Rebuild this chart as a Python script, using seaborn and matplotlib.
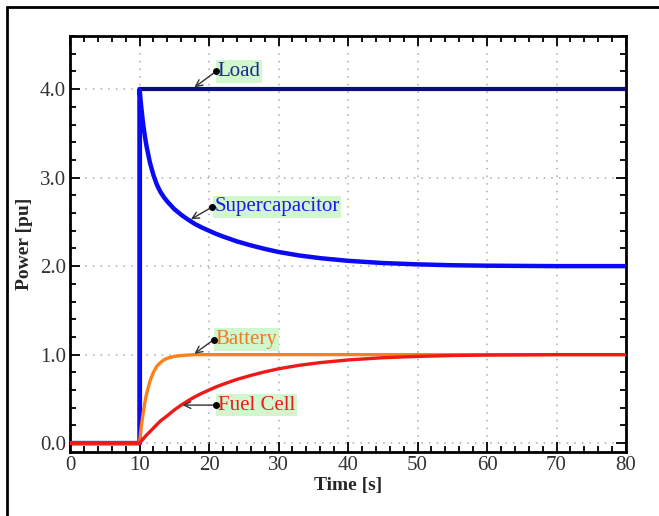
import numpy as np
import pandas as pd
import matplotlib
matplotlib.use("Agg")
import matplotlib.pyplot as plt
from matplotlib.lines import Line2D
from matplotlib.ticker import MultipleLocator, FormatStrFormatter
import seaborn as sns

# values
time_s = [0, 10, 10, 10.25, 10.5, 10.75, 11, 11.5, 12, 12.5, 13, 13.5, 14, 15, 16, 17, 18, 19,
          20, 21, 22, 24, 26, 28, 30, 33, 36, 40, 45, 50, 55, 60, 70, 80]
load = [0, 0] + [4.0] * 32
supercap = [0, 0, 4.0, 3.80, 3.62, 3.48, 3.36, 3.17, 3.03, 2.92, 2.84, 2.78, 2.73, 2.645, 2.58, 2.525,
            2.475, 2.435, 2.40, 2.365, 2.335, 2.28, 2.235, 2.195, 2.16, 2.12, 2.09, 2.06, 2.035,
            2.02, 2.01, 2.005, 2.0, 2.0]
battery = [0, 0, 0, 0.18, 0.33, 0.45, 0.55, 0.70, 0.80, 0.87, 0.91, 0.94, 0.96, 0.98, 0.99, 0.995,
           1.0, 1.0, 1.0, 1.0, 1.0, 1.0, 1.0, 1.0, 1.0, 1.0, 1.0, 1.0, 1.0, 1.0, 1.0, 1.0, 1.0, 1.0]
fuel_cell = [0, 0, 0, 0.023, 0.045, 0.068, 0.09, 0.13, 0.17, 0.21, 0.25, 0.28, 0.31, 0.375, 0.43, 0.48,
             0.525, 0.565, 0.60, 0.635, 0.665, 0.72, 0.765, 0.805, 0.84, 0.88, 0.91, 0.94, 0.965,
             0.98, 0.99, 0.995, 1.0, 1.0]

# label text, dot position, arrow tip
labels = ["Load", "Supercapacitor", "Battery", "Fuel Cell"]
dot_x = [21.0, 20.5, 20.7, 21.0]
dot_y = [4.20, 2.67, 1.17, 0.43]
tip_x = [17.9, 17.4, 17.9, 16.2]
tip_y = [4.02, 2.53, 1.01, 0.43]

colors = {"Load": "#0c0c84", "Supercapacitor": "#0a0af5",
          "Battery": "#ff8019", "Fuel Cell": "#f01818"}
text_colors = {"Load": "#1c2a8c", "Supercapacitor": "#1a1ae6",
               "Battery": "#f07a20", "Fuel Cell": "#e41c1c"}
widths = {"Load": 3.0, "Supercapacitor": 3.2, "Battery": 2.4, "Fuel Cell": 2.4}

sns.set_theme(style="ticks")
plt.rcParams["font.family"] = ["Liberation Serif", "DejaVu Serif"]

fig = plt.figure(figsize=(6.59, 5.16), dpi=100)
ax = fig.add_axes([70 / 659, 1 - 452 / 516, (626 - 70) / 659, (452 - 36) / 516])

series = [("Load", load), ("Supercapacitor", supercap),
          ("Battery", battery), ("Fuel Cell", fuel_cell)]
for i, (name, vals) in enumerate(series):
    sns.lineplot(x=time_s, y=vals, estimator=None, sort=False, ax=ax,
                 color=colors[name], lw=widths[name], zorder=3 + i,
                 solid_joinstyle="round", solid_capstyle="round")

for lab, dx, dy, tx, ty in zip(labels, dot_x, dot_y, tip_x, tip_y):
    ax.annotate("", xy=(tx, ty), xytext=(dx, dy),
                arrowprops=dict(arrowstyle="->", color="#333333", lw=1.0,
                                shrinkA=0, shrinkB=0), zorder=8)
    ax.plot(dx, dy, "o", color="black", ms=4, zorder=9)
    ax.text(dx + 0.25, dy, lab, color=text_colors[lab], fontsize=15,
            ha="left", va="center", zorder=7,
            bbox=dict(boxstyle="square,pad=0.08", fc="#d2f7cf", ec="none"))

ax.set_xlim(0, 80)
ax.set_ylim(-0.1, 4.6)
ax.xaxis.set_major_locator(MultipleLocator(10))
ax.xaxis.set_minor_locator(MultipleLocator(2))
ax.yaxis.set_major_locator(MultipleLocator(1.0))
ax.yaxis.set_minor_locator(MultipleLocator(0.2))
ax.yaxis.set_major_formatter(FormatStrFormatter("%.1f"))
ax.tick_params(which="both", direction="in", top=True, right=True,
               color="black", width=1.3)
ax.tick_params(which="major", length=7, labelsize=15, pad=3, labelcolor="#333333")
ax.tick_params(which="minor", length=4)
ax.grid(True, which="major", linestyle=(0, (1, 4)), color="#aaaaaa", lw=1.1)
ax.set_axisbelow(True)
for sp in ax.spines.values():
    sp.set_visible(True)
    sp.set_linewidth(2.0)
    sp.set_color("black")

ax.set_xlabel("Time [s]", fontsize=14, fontweight="bold", labelpad=1)
ax.set_ylabel("Power [pu]", fontsize=14, fontweight="bold", labelpad=5)

# frame lines on top and left of the picture
fig.add_artist(Line2D([7 / 659, 1.0], [1 - 7 / 516, 1 - 7 / 516],
                      transform=fig.transFigure, color="black", lw=2))
fig.add_artist(Line2D([7 / 659, 7 / 659], [0.0, 1 - 7 / 516],
                      transform=fig.transFigure, color="black", lw=2))

fig.savefig("out.png", dpi=100)
